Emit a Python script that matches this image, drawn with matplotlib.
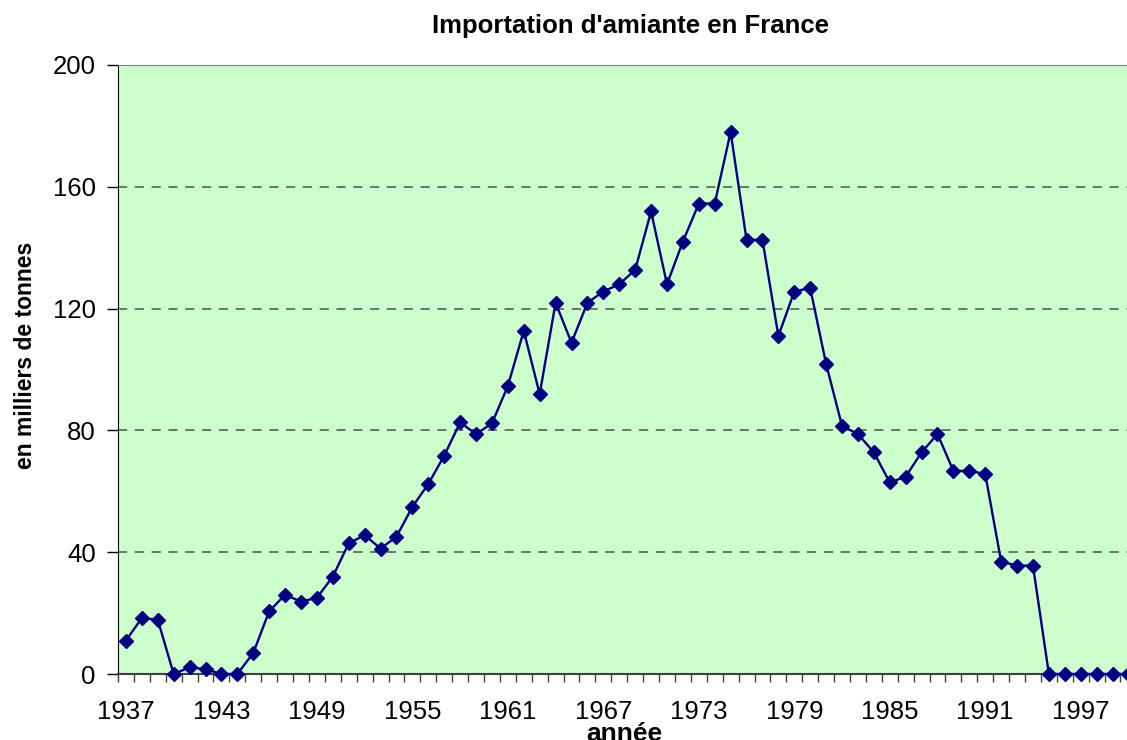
import matplotlib
matplotlib.use("Agg")
import matplotlib.pyplot as plt
from matplotlib.ticker import FixedLocator

plt.rcParams['font.family'] = ['Liberation Sans', 'DejaVu Sans']

years = list(range(1937, 2001))
imports = [
    11, 18.4, 17.8, 0, 2.2, 1.6, 0, 0, 6.9, 20.6,
    26.0, 23.8, 25.0, 32.0, 42.9, 45.6, 41.2, 45.1, 54.9, 62.4,
    71.7, 82.6, 78.8, 82.3, 94.6, 112.7, 91.9, 121.9, 108.8, 121.9,
    125.6, 128.0, 132.7, 151.9, 128.0, 142.0, 154.5, 154.5, 178.0, 142.6,
    142.6, 111.0, 125.6, 126.8, 101.8, 81.5, 78.8, 72.8, 62.9, 64.8,
    72.8, 78.8, 66.7, 66.7, 65.7, 36.9, 35.6, 35.6, 0, 0,
    0, 0, 0, 0,
]
year_labels = list(range(1937, 2001, 6))
y_ticks = [0, 40, 80, 120, 160, 200]

fig = plt.figure(figsize=(11.27, 7.4), dpi=100)
W, H = 1127, 740
left, right, top, bottom = 118, 1136.4, 65, 674
ax = fig.add_axes([left / W, 1 - bottom / H, (right - left) / W, (bottom - top) / H])
ax.set_facecolor('#CCFFCC')

ax.plot(years, imports, color='#000080', lw=1.7, marker='D', ms=7.5,
        markerfacecolor='#000080', markeredgecolor='#000080', zorder=3, clip_on=False)

ax.set_xlim(1936.5, 2000.5)
ax.set_ylim(0, 200)

for v in y_ticks[1:-1]:
    ax.axhline(v, color='#505050', lw=1.1, ls=(0, (6, 5)), zorder=1)

ax.xaxis.set_major_locator(FixedLocator(year_labels))
ax.xaxis.set_minor_locator(FixedLocator([y - 0.5 for y in range(1937, 2002)]))
ax.tick_params(axis='x', which='major', length=0, pad=19, labelsize=18.5)
ax.tick_params(axis='x', which='minor', length=6, width=1, color='#404040', direction='out')
ax.set_yticks(y_ticks)
ax.tick_params(axis='y', length=8, width=1, direction='out', labelsize=18.5, pad=8)

ax.spines['left'].set_color('black')
ax.spines['bottom'].set_color('#404040')
ax.spines['bottom'].set_linewidth(1.5)
ax.spines['top'].set_color('#808080')
ax.spines['right'].set_visible(False)

fig.text(630.5 / W, 1 - 33 / H, "Importation d'amiante en France", ha='center', va='baseline',
         fontsize=18.5, fontweight='bold')
fig.text(26 / W, 1 - 355 / H, 'en milliers de tonnes', ha='center', va='center',
         rotation=90, fontsize=16.5, fontweight='bold')
fig.text(624 / W, 1 - 741 / H, 'année', ha='center', va='baseline',
         fontsize=19, fontweight='bold')

fig.savefig('out.png', dpi=100)
